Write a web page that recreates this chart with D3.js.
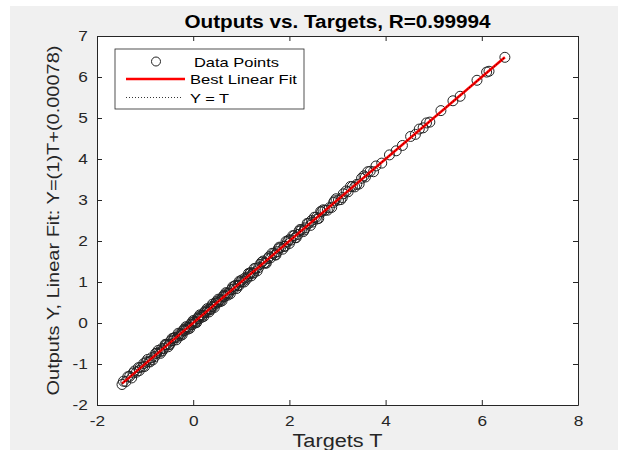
<!DOCTYPE html>
<html>
<head>
<meta charset="utf-8">
<style>
  body { margin: 0; background: #fff; font-family: "Liberation Sans", Arial, sans-serif; }
  svg { display: block; }
</style>
<script src="https://cdn.jsdelivr.net/npm/d3@7"></script>
</head>
<body>
<script>
// targets (T) and network outputs (Y)
var targets = [
  -1.48, -1.45, -1.40, -1.32, -1.25, -1.18, -1.10, -1.05, -0.98, -0.92,
  -0.87, -0.80, -0.76, -0.70, -0.66, -0.61, -0.55, -0.50, -0.47, -0.42,
  -0.38, -0.33, -0.29, -0.25, -0.21, -0.17, -0.13, -0.09, -0.05, -0.02,
   0.02,  0.05,  0.09,  0.12,  0.16,  0.20,  0.23,  0.27,  0.31,  0.35,
   0.38,  0.42,  0.46,  0.50,  0.54,  0.58,  0.62,  0.66,  0.70,  0.74,
   0.79,  0.84,  0.88,  0.93,  0.98,  1.03,  1.08,  1.13,  1.18,  1.24,
   1.30,  1.36,  1.42,  1.48,  1.55,  1.61,  1.68,  1.75,  1.82,  1.89,
   1.96,  2.03,  2.10,  2.18,  2.25,  2.33,  2.40,  2.48,  2.56,  2.65,
   2.74,  2.83,  2.92,  3.02,  3.12,  3.22,  3.31,  3.40,  3.50,  3.58,
   3.68,  3.80,  3.92,  4.08,  4.22,  4.35,  4.52,  4.62,  4.70,  4.78,
   4.85,  4.92,  5.15,  5.40,  5.55,  5.90,  6.10,  6.15,  6.48,
  -1.36, -1.28, -1.14, -1.01, -0.95, -0.84, -0.73, -0.68, -0.58, -0.52,
  -0.44, -0.35, -0.31, -0.23, -0.15, -0.07,  0.00,  0.07,  0.14,  0.22,
   0.29,  0.33,  0.40,  0.44,  0.52,  0.60,  0.68,  0.77,  0.82,  0.90,
   0.96,  1.06,  1.15,  1.21,  1.27,  1.33,  1.45,  1.52,  1.64,  1.72,
   1.79,  1.86,  1.93,  2.00,  2.07,  2.14,  2.22,  2.29,  2.37,  2.44,
   2.52,  2.61,  2.70,  2.88,  2.97,  3.07,  3.27,  3.45,  3.63,  3.75,
  -1.22, -1.12, -1.03, -0.90, -0.78, -0.64, -0.57, -0.49, -0.40, -0.27,
  -0.19, -0.11, -0.03,  0.04,  0.11,  0.18,  0.25,  0.37,  0.48,  0.56,
   0.64,  0.72,  0.86,  0.95,  1.01,  1.11,  1.19,  1.26,  1.39,  1.50,
   1.58,  1.70,  1.77,  1.91,  1.99,  2.12,  2.20,  2.31,  2.46,  2.58,
   2.67,  2.79,  2.94,  3.10,  3.18,  3.36,  3.55
];
var outputs = [
  -1.50, -1.42, -1.43, -1.30, -1.22, -1.20, -1.08, -1.07, -0.95, -0.94,
  -0.85, -0.82, -0.74, -0.71, -0.63, -0.62, -0.53, -0.52, -0.44, -0.43,
  -0.36, -0.35, -0.27, -0.26, -0.19, -0.18, -0.11, -0.10, -0.03, -0.04,
   0.04,  0.03,  0.11,  0.10,  0.18,  0.19,  0.25,  0.26,  0.33,  0.34,
   0.40,  0.41,  0.48,  0.49,  0.56,  0.57,  0.64,  0.65,  0.72,  0.73,
   0.81,  0.83,  0.92,  0.92,  1.00,  1.01,  1.10,  1.12,  1.20,  1.22,
   1.33,  1.35,  1.48,  1.47,  1.57,  1.59,  1.70,  1.74,  1.84,  1.87,
   1.98,  2.02,  2.13,  2.16,  2.27,  2.32,  2.43,  2.46,  2.58,  2.72,
   2.75,  2.81,  2.94,  3.00,  3.15,  3.20,  3.33,  3.38,  3.53,  3.56,
   3.70,  3.83,  3.90,  4.10,  4.20,  4.33,  4.55,  4.60,  4.73,  4.76,
   4.88,  4.90,  5.18,  5.42,  5.53,  5.92,  6.12,  6.14,  6.48,
  -1.31, -1.34, -1.09, -1.06, -0.89, -0.90, -0.67, -0.74, -0.52, -0.58,
  -0.38, -0.41, -0.25, -0.29, -0.09, -0.13,  0.06,  0.01,  0.20,  0.16,
   0.35,  0.27,  0.46,  0.38,  0.58,  0.54,  0.74,  0.71,  0.88,  0.84,
   1.02,  1.00,  1.21,  1.15,  1.33,  1.27,  1.51,  1.46,  1.70,  1.66,
   1.85,  1.80,  1.99,  1.94,  2.13,  2.08,  2.28,  2.23,  2.43,  2.38,
   2.58,  2.55,  2.76,  2.82,  3.03,  3.01,  3.33,  3.39,  3.69,  3.69,
  -1.17, -1.16, -0.99, -0.95, -0.74, -0.68, -0.53, -0.53, -0.36, -0.31,
  -0.15, -0.15,  0.01,  0.00,  0.15,  0.14,  0.29,  0.33,  0.52,  0.52,
   0.68,  0.68,  0.90,  0.91,  1.05,  1.07,  1.23,  1.22,  1.43,  1.46,
   1.62,  1.66,  1.81,  1.87,  2.03,  2.08,  2.24,  2.27,  2.50,  2.54,
   2.71,  2.75,  2.98,  3.06,  3.22,  3.32,  3.59
];
var fitSlope = 1, fitIntercept = 0.00078;
var xTicks = [-2, 0, 2, 4, 6, 8];
var yTicks = [-2, -1, 0, 1, 2, 3, 4, 5, 6, 7];
var legendLabels = ["Data Points", "Best Linear Fit", "Y = T"];

var W = 618, H = 450;
var mLeft = 97, mRight = 578, mTop = 36, mBottom = 405;
var ink = "#262626";
var stretch = 1.15; // the source text is rendered a bit wide

var svg = d3.select("body").append("svg").attr("width", W).attr("height", H);
svg.append("rect").attr("x", 10).attr("y", 6).attr("width", W - 10).attr("height", H - 6).attr("fill", "#f0f0f0");
svg.append("rect").attr("x", mLeft).attr("y", mTop).attr("width", mRight - mLeft).attr("height", mBottom - mTop).attr("fill", "#fff");

var x = d3.scaleLinear().domain([-2, 8]).range([mLeft, mRight]);
var y = d3.scaleLinear().domain([-2, 7]).range([mBottom, mTop]);
var plain = function(d) { return String(d); };

// axes, ticks pointing inward, box on
function styleAxis(g) {
  g.select(".domain").attr("stroke", ink);
  g.selectAll(".tick line").attr("stroke", ink);
  g.selectAll(".tick text").attr("fill", ink).attr("font-size", "15px")
    .attr("font-family", "'Liberation Sans', Arial, sans-serif")
    .attr("transform", "scale(" + stretch + ",1)");
}
svg.append("g").attr("transform", "translate(0," + mBottom + ")")
  .call(d3.axisBottom(x).tickValues(xTicks).tickSizeInner(-5).tickSizeOuter(0).tickPadding(10).tickFormat(plain))
  .call(styleAxis);
svg.append("g").attr("transform", "translate(0," + mTop + ")")
  .call(d3.axisTop(x).tickValues(xTicks).tickSizeInner(-5).tickSizeOuter(0).tickFormat(""))
  .call(styleAxis);
svg.append("g").attr("transform", "translate(" + mLeft + ",0)")
  .call(d3.axisLeft(y).tickValues(yTicks).tickSizeInner(-5).tickSizeOuter(0).tickPadding(8).tickFormat(plain))
  .call(styleAxis);
svg.append("g").attr("transform", "translate(" + mRight + ",0)")
  .call(d3.axisRight(y).tickValues(yTicks).tickSizeInner(-5).tickSizeOuter(0).tickFormat(""))
  .call(styleAxis);

var pts = targets.map(function(t, i) { return [t, outputs[i]]; });

svg.append("g").selectAll("circle").data(pts).enter().append("circle")
  .attr("cx", function(d) { return x(d[0]); })
  .attr("cy", function(d) { return y(d[1]); })
  .attr("r", 5)
  .attr("fill", "none")
  .attr("stroke", "#222")
  .attr("stroke-width", 1);

var tMin = d3.min(targets), tMax = d3.max(targets);
svg.append("line")
  .attr("x1", x(tMin)).attr("y1", y(fitSlope * tMin + fitIntercept))
  .attr("x2", x(tMax)).attr("y2", y(fitSlope * tMax + fitIntercept))
  .attr("stroke", "#ff0000").attr("stroke-width", 2.5);
svg.append("line")
  .attr("x1", x(tMin)).attr("y1", y(tMin))
  .attr("x2", x(tMax)).attr("y2", y(tMax))
  .attr("stroke", "#000").attr("stroke-width", 0.8).attr("stroke-dasharray", "1,2");

// legend
var lg = svg.append("g");
lg.append("rect").attr("x", 115).attr("y", 49).attr("width", 189).attr("height", 60)
  .attr("fill", "#fff").attr("stroke", ink).attr("stroke-width", 0.8);
var rows = [61.5, 79, 97.5];
lg.append("circle").attr("cx", 156).attr("cy", rows[0]).attr("r", 4.5)
  .attr("fill", "none").attr("stroke", "#222");
lg.append("line").attr("x1", 126).attr("x2", 185).attr("y1", rows[1]).attr("y2", rows[1])
  .attr("stroke", "#ff0000").attr("stroke-width", 2.5);
lg.append("line").attr("x1", 126).attr("x2", 182).attr("y1", rows[2]).attr("y2", rows[2])
  .attr("stroke", "#000").attr("stroke-width", 0.8).attr("stroke-dasharray", "1,2");
var legendX = [194, 190, 190], legendW = [85, 107, 39];
lg.selectAll("text").data(legendLabels).enter().append("text")
  .attr("x", function(d, i) { return legendX[i]; })
  .attr("y", function(d, i) { return rows[i] + 5; })
  .attr("font-size", "13px").attr("fill", "#000")
  .attr("textLength", function(d, i) { return legendW[i]; })
  .attr("lengthAdjust", "spacingAndGlyphs")
  .text(function(d) { return d; });

// titles
var cx = (mLeft + mRight) / 2;
svg.append("text").attr("x", cx).attr("y", 28)
  .attr("text-anchor", "middle").attr("font-size", "18px").attr("font-weight", "bold").attr("fill", "#000")
  .attr("textLength", 306).attr("lengthAdjust", "spacingAndGlyphs")
  .text("Outputs vs. Targets, R=0.99994");
svg.append("text").attr("x", cx).attr("y", 447)
  .attr("text-anchor", "middle").attr("font-size", "18px").attr("fill", ink)
  .attr("textLength", 90).attr("lengthAdjust", "spacingAndGlyphs")
  .text("Targets T");
svg.append("text").attr("transform", "translate(59," + (mTop + mBottom) / 2 + ") rotate(-90)")
  .attr("text-anchor", "middle").attr("font-size", "17px").attr("fill", ink)
  .attr("textLength", 350).attr("lengthAdjust", "spacingAndGlyphs")
  .text("Outputs Y, Linear Fit: Y=(1)T+(0.00078)");
</script>
</body>
</html>
